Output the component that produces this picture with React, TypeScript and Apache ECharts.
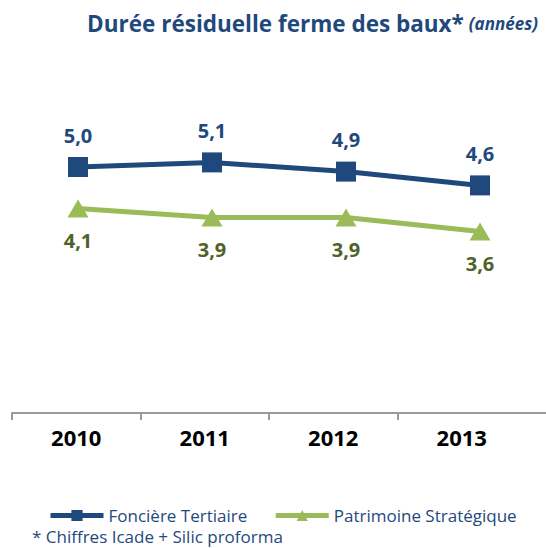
import React, { useEffect, useRef } from "react";
import * as echarts from "echarts";

const years = ["2010", "2011", "2012", "2013"];
const fonciereTertiaire = [5.0, 5.1, 4.9, 4.6];
const patrimoineStrategique = [4.1, 3.9, 3.9, 3.6];
const seriesNames = ["Foncière Tertiaire", "Patrimoine Stratégique"];

const BLUE = "#1F497D";
const GREEN = "#9BBB59";
const GREEN_DARK = "#4F6228";
const AXIS = "#9A9A9A";
const FONT = "Open Sans";

export default function App() {
  const ref = useRef<HTMLDivElement>(null);
  useEffect(() => {
    if (!ref.current) return;
    const chart = echarts.init(ref.current, null, { renderer: "svg" });
    const fmt = (p: any) => Number(p.value).toFixed(1).replace(".", ",");
    const bandTicks = years.map((_, i) => i);
    const bandCenters = years.map((_, i) => i + 0.5);
    chart.setOption({
      animation: false,
      backgroundColor: "#ffffff",
      title: {
        right: 3,
        top: 7,
        text: "{a|Durée résiduelle ferme des baux*} {b|(années)}",
        textStyle: {
          rich: {
            a: { fontFamily: FONT, fontSize: 22.5, fontWeight: "bold", color: BLUE },
            b: { fontFamily: FONT, fontSize: 17, fontStyle: "italic", color: BLUE },
          },
        },
      },
      grid: [
        { left: 12, right: 0, bottom: 135, height: 100, outerBoundsMode: "none" },
        { left: 78, right: 66, top: 121, bottom: 151, outerBoundsMode: "none" },
      ],
      xAxis: [
        {
          type: "value",
          gridIndex: 0,
          min: 0,
          max: 534 / 128.5,
          splitLine: { show: false },
          axisLine: { show: true, lineStyle: { color: AXIS, width: 2 } },
          axisTick: {
            show: true,
            length: 7,
            lineStyle: { color: AXIS, width: 2 },
            customValues: bandTicks,
          },
          axisLabel: {
            margin: 13,
            fontFamily: FONT,
            fontSize: 22,
            fontWeight: "bold",
            color: "#000000",
            customValues: bandCenters,
            formatter: (v: number) => years[Math.floor(v)] ?? "",
          },
        },
        {
          type: "category",
          gridIndex: 1,
          data: years,
          boundaryGap: false,
          show: false,
        },
      ],
      yAxis: [
        { type: "value", gridIndex: 0, show: false, min: 0, max: 6 },
        { type: "value", gridIndex: 1, show: false, min: 0, max: 6, splitLine: { show: false } },
      ],
      legend: {
        left: 43,
        top: 502,
        itemGap: 26,
        itemWidth: 53,
        itemHeight: 14,
        data: seriesNames,
        lineStyle: { width: 5 },
        textStyle: { fontFamily: FONT, fontSize: 17, color: BLUE },
      },
      graphic: [
        {
          type: "text",
          left: 32,
          top: 528,
          style: {
            text: "* Chiffres Icade + Silic proforma",
            fontFamily: FONT,
            fontSize: 17,
            fill: BLUE,
          },
        },
      ],
      series: [
        {
          name: seriesNames[0],
          type: "line",
          xAxisIndex: 1,
          yAxisIndex: 1,
          data: fonciereTertiaire,
          symbol: "rect",
          symbolSize: 20,
          lineStyle: { color: BLUE, width: 5 },
          itemStyle: { color: BLUE },
          label: {
            show: true,
            position: "top",
            distance: 12,
            formatter: fmt,
            fontFamily: FONT,
            fontSize: 20,
            fontWeight: "bold",
            color: BLUE,
          },
        },
        {
          name: seriesNames[1],
          type: "line",
          xAxisIndex: 1,
          yAxisIndex: 1,
          data: patrimoineStrategique,
          symbol: "triangle",
          symbolSize: [21, 18],
          lineStyle: { color: GREEN, width: 5 },
          itemStyle: { color: GREEN },
          label: {
            show: true,
            position: "bottom",
            distance: 13,
            formatter: fmt,
            fontFamily: FONT,
            fontSize: 20,
            fontWeight: "bold",
            color: GREEN_DARK,
          },
        },
      ],
    });
    return () => chart.dispose();
  }, []);
  return <div ref={ref} style={{ width: 546, height: 548, position: "absolute", left: 0, top: 0 }} />;
}
